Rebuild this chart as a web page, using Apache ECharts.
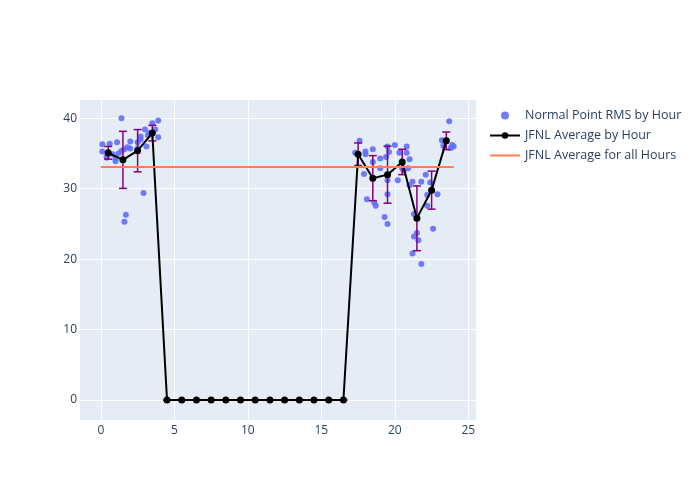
<!DOCTYPE html>
<html>
<head>
<meta charset="utf-8">
<script src="https://cdn.jsdelivr.net/npm/echarts@6/dist/echarts.min.js"></script>
<style>
  html, body { margin: 0; padding: 0; background: #fff; }
  #chart { width: 700px; height: 500px; }
</style>
</head>
<body>
<div id="chart"></div>
<script>
// normal point rms, one entry per point (hour of day, rms)
const pointHours = [
  0.1, 0.1, 0.4, 0.4, 0.6, 0.8, 1.0, 1.0, 1.1, 1.2, 1.4, 1.4, 1.6, 1.7, 1.6, 1.8,
  2.0, 2.0, 2.5, 2.5, 2.7, 2.7, 2.9, 3.0, 3.1, 3.2, 3.3, 3.5, 3.7, 3.9, 3.9,
  17.3, 17.6, 18.0, 18.0, 17.9, 18.5, 18.5, 18.1, 18.6, 18.7, 19.0, 19.0, 19.4, 19.5,
  19.6, 19.5, 19.5, 19.3, 19.5, 20.0, 20.3, 20.2, 20.8, 20.8, 21.0, 20.5, 20.9, 20.6,
  21.2, 21.0, 21.8, 21.3, 21.5, 21.3, 21.6, 21.2, 21.8, 22.1, 22.4, 22.2, 22.2, 22.6,
  22.9, 23.2, 23.3, 23.7, 23.9, 24.0, 23.8
];
const pointRms = [
  36.3, 35.3, 34.6, 34.4, 36.4, 34.9, 33.9, 34.3, 36.6, 35.0, 40.0, 35.4, 35.6, 26.3, 25.3, 35.9,
  36.7, 35.7, 35.7, 36.6, 37.4, 37.0, 29.4, 38.4, 36.0, 37.6, 37.9, 39.3, 38.4, 39.7, 37.3,
  35.1, 36.8, 35.3, 34.9, 32.1, 35.6, 33.8, 28.5, 28.0, 27.6, 34.3, 32.9, 34.5, 36.0,
  35.2, 31.2, 29.2, 26.0, 25.0, 36.2, 35.1, 31.2, 36.0, 35.1, 34.2, 32.9, 32.9, 32.6,
  31.0, 30.5, 31.0, 26.4, 23.7, 23.2, 22.7, 20.8, 19.3, 32.0, 30.9, 29.1, 27.6, 24.3,
  29.2, 36.9, 36.1, 39.6, 36.2, 36.0, 35.8
];

// hourly averages and their spread
const avgHours = [0.5, 1.5, 2.5, 3.5, 4.5, 5.5, 6.5, 7.5, 8.5, 9.5, 10.5, 11.5,
  12.5, 13.5, 14.5, 15.5, 16.5, 17.5, 18.5, 19.5, 20.5, 21.5, 22.5, 23.5];
const avgValues = [35.1, 34.1, 35.4, 37.9, 0, 0, 0, 0, 0, 0, 0, 0,
  0, 0, 0, 0, 0, 34.9, 31.5, 32.0, 33.8, 25.8, 29.8, 36.8];
const avgStd = [0.9, 4.05, 3.0, 1.1, 0, 0, 0, 0, 0, 0, 0, 0,
  0, 0, 0, 0, 0, 1.6, 3.2, 4.05, 1.8, 4.6, 2.7, 1.25];

// overall average
const overallAvg = 33.1;
const overallSpan = [0, 24];

const xTicks = [0, 5, 10, 15, 20, 25];
const yTicks = [0, 10, 20, 30, 40];

const chart = echarts.init(document.getElementById('chart'));

const textColor = '#2a3f5f';
const font = '"Open Sans", "Noto Sans", sans-serif';

chart.setOption({
  animation: false,
  backgroundColor: '#fff',
  textStyle: { fontFamily: font },
  grid: { left: 80, top: 100, width: 396, height: 320, backgroundColor: '#E5ECF6', show: true, borderWidth: 0 },
  legend: {
    orient: 'vertical',
    left: 484,
    top: 104,
    itemWidth: 30,
    itemHeight: 8,
    itemGap: 7,
    textStyle: { color: textColor, fontSize: 12.5, fontFamily: font },
    data: [
      'Normal Point RMS by Hour',
      'JFNL Average by Hour',
      { name: 'JFNL Average for all Hours', icon: 'path://M0 0 H30 V2 H0 Z' }
    ]
  },
  xAxis: {
    type: 'value',
    min: -1.42,
    max: 25.52,
    axisLine: { show: false },
    axisTick: { show: false, customValues: xTicks },
    axisLabel: { customValues: xTicks, color: textColor, fontSize: 12, margin: 5 },
    splitLine: { show: true, lineStyle: { color: '#fff', width: 1 } }
  },
  yAxis: {
    type: 'value',
    min: -2.84,
    max: 42.6,
    axisLine: { show: false },
    axisTick: { show: false, customValues: yTicks },
    axisLabel: { customValues: yTicks, color: textColor, fontSize: 12, margin: 3 },
    splitLine: { show: true, lineStyle: { color: '#fff', width: 1 } }
  },
  series: [
    {
      name: 'Normal Point RMS by Hour',
      type: 'scatter',
      symbolSize: 6,
      itemStyle: { color: '#636EFA', opacity: 0.9 },
      data: pointHours.map((h, i) => [h, pointRms[i]]),
      z: 2
    },
    {
      name: 'JFNL Average by Hour',
      type: 'line',
      symbol: 'circle',
      symbolSize: 7,
      showSymbol: true,
      lineStyle: { color: '#000', width: 2 },
      itemStyle: { color: '#000' },
      data: avgHours.map((h, i) => [h, avgValues[i]]),
      z: 4
    },
    {
      // error bars (std) of the hourly averages
      name: 'hourly spread',
      type: 'custom',
      renderItem: function (params, api) {
        const x = api.value(0);
        const top = api.coord([x, api.value(2)]);
        const bot = api.coord([x, api.value(1)]);
        const w = 4;
        const style = { stroke: 'purple', lineWidth: 1.5 };
        return {
          type: 'group',
          children: [
            { type: 'line', shape: { x1: top[0], y1: top[1], x2: bot[0], y2: bot[1] }, style: style },
            { type: 'line', shape: { x1: top[0] - w, y1: top[1], x2: top[0] + w, y2: top[1] }, style: style },
            { type: 'line', shape: { x1: bot[0] - w, y1: bot[1], x2: bot[0] + w, y2: bot[1] }, style: style }
          ]
        };
      },
      data: avgHours.map((h, i) => [h, avgValues[i] - avgStd[i], avgValues[i] + avgStd[i]]),
      z: 3,
      silent: true
    },
    {
      name: 'JFNL Average for all Hours',
      type: 'line',
      symbol: 'none',
      lineStyle: { color: '#FF7F50', width: 2 },
      itemStyle: { color: '#FF7F50' },
      data: overallSpan.map(h => [h, overallAvg]),
      z: 5
    }
  ]
});
</script>
</body>
</html>
